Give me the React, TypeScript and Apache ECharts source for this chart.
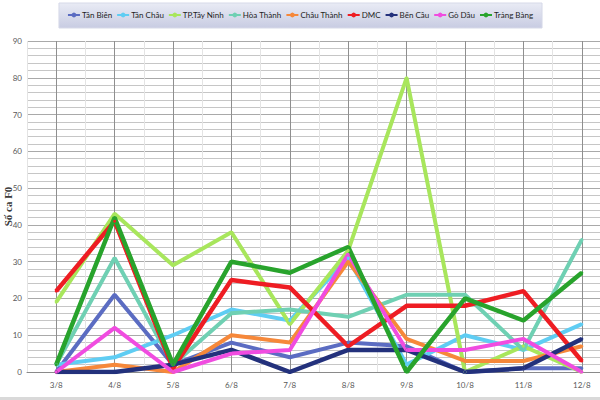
import React, { useEffect, useRef } from "react";
import * as echarts from "echarts";

const categories = ["3/8", "4/8", "5/8", "6/8", "7/8", "8/8", "9/8", "10/8", "11/8", "12/8"];
const yTicks = [0, 10, 20, 30, 40, 50, 60, 70, 80, 90];

const seriesNames = ["Tân Biên", "Tân Châu", "TP.Tây Ninh", "Hòa Thành", "Châu Thành", "DMC", "Bến Cầu", "Gò Dầu", "Trảng Bàng"];
const tanBien = [0, 21, 2, 8, 4, 8, 7, 0, 1, 1];
const tanChau = [2, 4, 10, 17, 14, 31, 2, 10, 6, 13];
const tpTayNinh = [19, 43, 29, 38, 13, 33, 80, 0, 7, 0];
const hoaThanh = [2, 31, 2, 16, 17, 15, 21, 21, 6, 36];
const chauThanh = [0, 2, 0, 10, 8, 30, 9, 3, 3, 7];
const dmc = [22, 41, 1, 25, 23, 7, 18, 18, 22, 3];
const benCau = [0, 0, 2, 6, 0, 6, 6, 0, 1, 9];
const goDau = [0, 12, 0, 5, 6, 32, 6, 6, 9, 0];
const trangBang = [2, 42, 2, 30, 27, 34, 0, 20, 14, 27];

const seriesData = [tanBien, tanChau, tpTayNinh, hoaThanh, chauThanh, dmc, benCau, goDau, trangBang];
const colors = ["#5b6cc2", "#5fcdf3", "#a8e65c", "#6fd0b3", "#f6883a", "#ee1d23", "#23317c", "#f04ce0", "#28a32c"];
const widths = [4, 4, 4, 4, 4, 4.5, 4.5, 4, 4.5];

export default function App() {
  const ref = useRef<HTMLDivElement>(null);
  useEffect(() => {
    if (!ref.current) return;
    const chart = echarts.init(ref.current, null, { renderer: "svg" });
    const narrow = "Lato, 'Liberation Sans', sans-serif";
    chart.setOption({
      animation: false,
      backgroundColor: "#ffffff",
      color: colors,
      legend: {
        data: seriesNames,
        top: 3,
        left: "center",
        itemWidth: 12,
        itemHeight: 6,
        itemGap: 4,
        padding: [8, 9, 9, 8],
        backgroundColor: new echarts.graphic.LinearGradient(0, 0, 0, 1, [
          { offset: 0, color: "#e9ebf5" },
          { offset: 1, color: "#c8cce2" },
        ]),
        borderColor: "#d6d9e8",
        borderWidth: 1,
        textStyle: { fontSize: 8, fontFamily: narrow, color: "#1e1e1e", padding: [0, 0, 0, -3] },
      },
      grid: { left: 27, right: -11, top: 41, bottom: 28, containLabel: false, outerBoundsMode: "none" },
      xAxis: {
        type: "category",
        data: categories,
        boundaryGap: true,
        axisLine: { show: true, lineStyle: { color: "#8a8a8a", width: 1 } },
        axisTick: {
          show: true,
          alignWithLabel: true,
          inside: true,
          length: 331,
          interval: 0,
          lineStyle: { color: "#8f8f8f", width: 1 },
        },
        axisLabel: { fontSize: 8, fontFamily: narrow, color: "#595959", margin: 9, interval: 0 },
        splitLine: { show: true, interval: 0, lineStyle: { color: "#e4e4e4", width: 1 } },
      },
      yAxis: {
        type: "value",
        min: yTicks[0],
        max: yTicks[yTicks.length - 1],
        interval: 10,
        name: "Số ca F0",
        nameLocation: "middle",
        nameGap: 14,
        nameRotate: 90,
        nameMoveOverlap: false,
        nameTextStyle: {
          fontFamily: "'Liberation Serif', 'DejaVu Serif', serif",
          fontWeight: "bold",
          fontSize: 11,
          color: "#3a3a3a",
        },
        axisLine: { show: false },
        axisTick: { show: false },
        axisLabel: { fontSize: 8, fontFamily: narrow, color: "#595959", margin: 5 },
        splitLine: { show: true, lineStyle: { color: "#a9a9a9", width: 1 } },
        minorTick: { show: false, splitNumber: 5 },
        minorSplitLine: { show: true, lineStyle: { color: "#c6c6c6", width: 1 } },
      },
      graphic: [
        { type: "rect", left: 0, top: 397, shape: { width: 600, height: 3 }, style: { fill: "#d9d9d9" }, silent: true },
      ],
      series: seriesNames.map((name, i) => ({
        name,
        type: "line",
        data: seriesData[i],
        symbol: "circle",
        symbolSize: 3,
        showSymbol: true,
        itemStyle: { color: colors[i] },
        lineStyle: { width: widths[i], color: colors[i] },
      })),
    });
    return () => chart.dispose();
  }, []);
  return <div ref={ref} style={{ position: "fixed", left: 0, top: 0, width: 600, height: 400 }} />;
}
